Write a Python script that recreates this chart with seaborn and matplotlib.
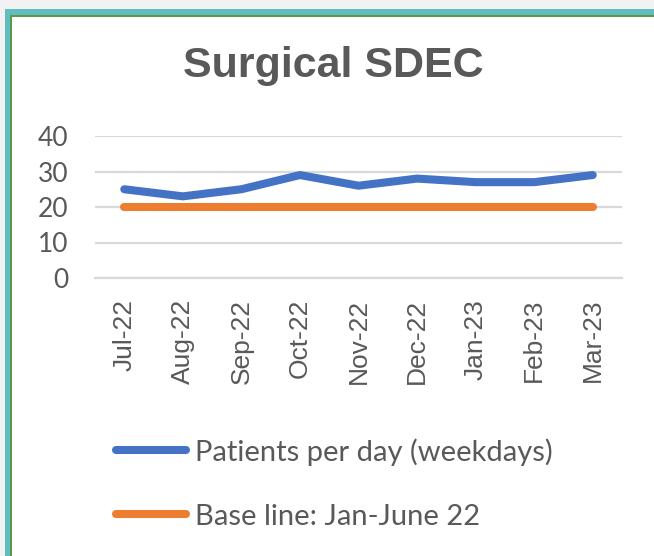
import pandas as pd
import matplotlib.pyplot as plt
import seaborn as sns
from matplotlib.patches import Rectangle
from matplotlib.lines import Line2D

months = ['Jul-22', 'Aug-22', 'Sep-22', 'Oct-22', 'Nov-22', 'Dec-22', 'Jan-23', 'Feb-23', 'Mar-23']
patients = [25, 23, 25, 29, 26, 28, 27, 27, 29]
baseline = [20, 20, 20, 20, 20, 20, 20, 20, 20]
series_names = ['Patients per day (weekdays)', 'Base line: Jan-June 22']
colors = ['#4472C4', '#ED7D31']

df = pd.DataFrame({
    'month': months * 2,
    'value': patients + baseline,
    'series': [series_names[0]] * len(months) + [series_names[1]] * len(months),
})

sns.set_style('white')
plt.rcParams['font.family'] = ['Lato', 'DejaVu Sans']

fig = plt.figure(figsize=(6.54, 5.56), dpi=100)
fig.patch.set_facecolor('#F2F2F2')
# chart frame: white area with teal + green border
frame = [(5, 9, '#62BDC0'), (10, 15, '#5B9A45'), (12, 17, 'white')]
for x0, y0, c in frame:
    fig.patches.append(Rectangle((x0 / 654, 0), 1, 1 - y0 / 556, transform=fig.transFigure,
                                 facecolor=c, edgecolor='none', zorder=-10))

ax = fig.add_axes([95 / 654, 0.5, (622 - 95) / 654, (278 - 136) / 556])
ax.set_zorder(1)
ax.set_facecolor('none')

sns.lineplot(data=df, x='month', y='value', hue='series', palette=colors,
             linewidth=5.8, ax=ax, legend=False, sort=False)
for ln in ax.lines:
    ln.set_solid_capstyle('round')
    ln.set_solid_joinstyle('round')

ax.set_xlim(-0.5, len(months) - 0.5)
ax.set_ylim(0, 40)
ax.set_yticks([0, 10, 20, 30, 40])
ax.yaxis.grid(True, color='#D9D9D9', linewidth=1.6)
ax.set_axisbelow(True)
for s in ['top', 'right', 'left']:
    ax.spines[s].set_visible(False)
ax.spines['bottom'].set_color('#D9D9D9')
ax.spines['bottom'].set_linewidth(1.6)

ax.set_xticks(range(len(months)))
ax.set_xticklabels(months, rotation=90, family=['Liberation Sans', 'DejaVu Sans'])
ax.set_xticks([i - 0.5 for i in range(len(months) + 1)], minor=True)
ax.tick_params(axis='x', which='major', length=0, pad=15, labelsize=19, labelcolor='#595959')
ax.tick_params(axis='x', which='minor', length=6, width=1.6, color='#D9D9D9', direction='out')
ax.tick_params(axis='y', length=0, pad=19, labelsize=19, labelcolor='#595959')
ax.set_xlabel('')
ax.set_ylabel('')

fig.text(333 / 654, 1 - 66 / 556, 'Surgical SDEC', ha='center', va='center',
         fontsize=31, fontweight='bold', color='#595959',
         family=['Liberation Sans', 'DejaVu Sans'])

handles = [Line2D([0], [0], color=c, linewidth=5.8, solid_capstyle='round') for c in colors]
fig.legend(handles, series_names, loc='upper left', bbox_to_anchor=(116 / 654, 1 - 438 / 556),
           frameon=False, fontsize=21, labelcolor='#595959', handlelength=2.4,
           handletextpad=0.3, labelspacing=1.3, borderpad=0, borderaxespad=0)

fig.savefig('out.png', dpi=100, facecolor=fig.get_facecolor())
